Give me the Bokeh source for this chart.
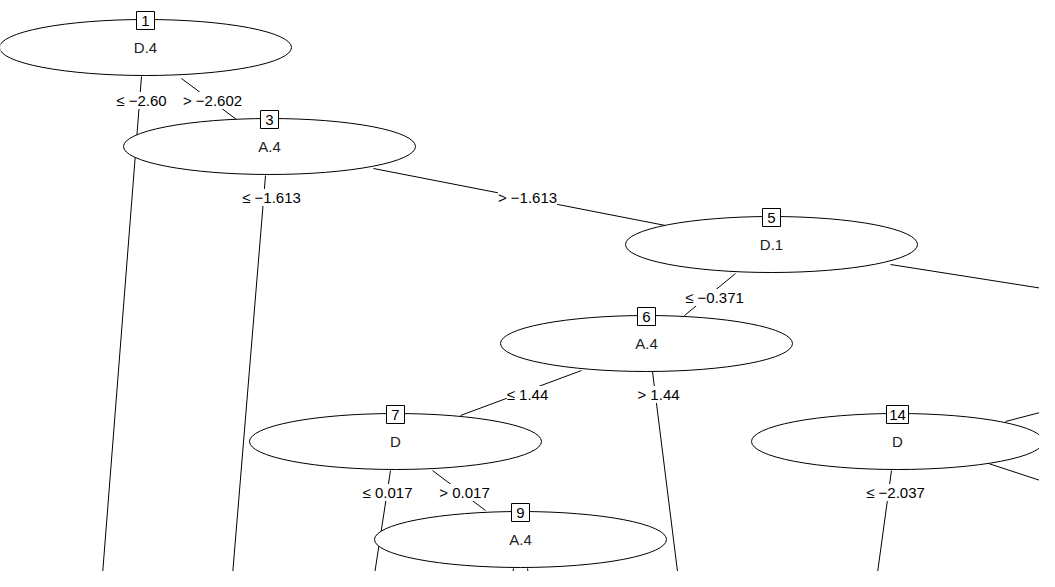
from bokeh.plotting import figure
from bokeh.embed import file_html
from bokeh.resources import INLINE
from bokeh.core.properties import value

# inner nodes (reference pixel coordinates)
node_id = ["1", "3", "5", "6", "7", "9", "14"]
node_var = ["D.4", "A.4", "D.1", "A.4", "D", "A.4", "D"]
node_x = [145, 269, 771, 646, 395, 520, 897]
node_y = [47, 146, 244, 343, 441, 539, 441]

# edges
edge_x0 = [141, 181, 265, 373, 735, 890, 581, 652, 390, 432, 513, 527, 891, 1005, 988]
edge_y0 = [76, 78, 175, 168, 273, 264, 370, 371, 470, 470, 568, 568, 470, 421, 463]
edge_x1 = [101, 236, 231, 665, 684, 1055, 460, 679, 372, 485, 510, 530, 875, 1055, 1055]
edge_y1 = [587, 119, 587, 225, 315, 290, 415, 587, 587, 510, 587, 587, 587, 408, 485]

# split labels
lab_text = ["≤ −2.60", "> −2.602", "≤ −1.613", "> −1.613", "≤ −0.371",
            "≤ 1.44", "> 1.44", "≤ 0.017", "> 0.017", "≤ −2.037"]
lab_x = [141, 212, 271, 527, 714, 527, 658, 387, 464, 895]
lab_y = [100, 100, 197, 197, 297, 394, 394, 492, 492, 492]

p = figure(width=1039, height=571, x_range=(0, 1039), y_range=(571, 0),
           output_backend="svg", toolbar_location=None, min_border=0)
p.axis.visible = False
p.grid.visible = False
p.outline_line_color = None

p.segment(edge_x0, edge_y0, edge_x1, edge_y1, line_color="black", line_width=1)
p.text(lab_x, lab_y, text=lab_text, text_align="center", text_baseline="middle",
       text_font=value("Liberation Sans"), text_font_size="15px", text_color="black",
       background_fill_color="white")
p.ellipse(node_x, node_y, width=292, height=56, fill_color="white", line_color="black")
p.text(node_x, node_y, text=node_var, text_align="center", text_baseline="middle",
       text_font=value("Liberation Sans"), text_font_size="15px", text_color="#222222")
box_y = [y - 27 for y in node_y]
p.rect(node_x, box_y, width=[18, 18, 18, 18, 18, 18, 22], height=18, width_units="screen",
       height_units="screen", fill_color="white", line_color="black")
p.text(node_x, box_y, text=node_id, text_align="center", text_baseline="middle",
       text_font=value("Liberation Sans"), text_font_size="15px", text_color="black")

open("out.html", "w").write(file_html(p, INLINE))
